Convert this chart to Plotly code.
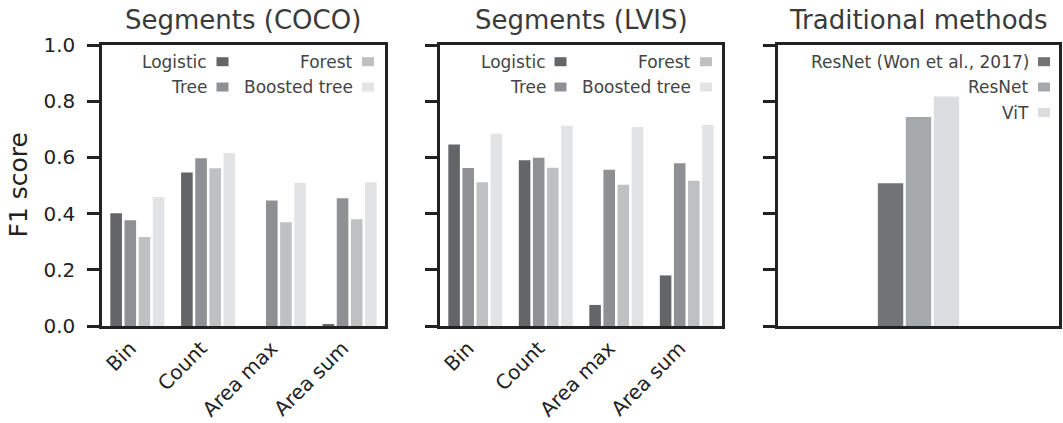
import plotly.graph_objects as go

# ---------------- data ----------------
features = ["Bin", "Count", "Area max", "Area sum"]
model_names = ["Logistic", "Tree", "Forest", "Boosted tree"]
model_colors = ["#646567", "#8f9093", "#bfc0c2", "#e2e3e5"]

coco_logistic = [0.401, 0.546, 0.0, 0.007]
coco_tree = [0.376, 0.597, 0.447, 0.455]
coco_forest = [0.317, 0.561, 0.369, 0.380]
coco_boosted = [0.459, 0.616, 0.510, 0.512]

lvis_logistic = [0.646, 0.590, 0.075, 0.180]
lvis_tree = [0.562, 0.599, 0.556, 0.579]
lvis_forest = [0.512, 0.563, 0.503, 0.517]
lvis_boosted = [0.684, 0.713, 0.708, 0.715]

trad_names = ["ResNet (Won et al., 2017)", "ResNet", "ViT"]
trad_colors = ["#727375", "#a6a9ac", "#dcdde0"]
trad_values = [0.508, 0.744, 0.817]
trad_category = ["F1"]

titles = ["Segments (COCO)", "Segments (LVIS)", "Traditional methods"]
y_ticks = [0.0, 0.2, 0.4, 0.6, 0.8, 1.0]

# ---------------- layout geometry ----------------
W, H = 1063, 423
panels_px = [(102, 385), (440, 722), (778, 1059)]
top_px, bottom_px = 45, 326
ydom = [1 - bottom_px / H, 1 - top_px / H]
FONT = "DejaVu Sans"
AXC = "#222222"

fig = go.Figure()

coco = [coco_logistic, coco_tree, coco_forest, coco_boosted]
lvis = [lvis_logistic, lvis_tree, lvis_forest, lvis_boosted]

unit1 = (panels_px[0][1] - panels_px[0][0]) / 4.0
bw1 = 11.6 / unit1
for k, (name, col) in enumerate(zip(model_names, model_colors)):
    fig.add_trace(go.Bar(x=features, y=coco[k], name=name, marker_color=col,
                         marker_line_width=0, width=bw1, xaxis="x", yaxis="y",
                         offsetgroup=str(k), showlegend=False))
    fig.add_trace(go.Bar(x=features, y=lvis[k], name=name, marker_color=col,
                         marker_line_width=0, width=bw1, xaxis="x2", yaxis="y2",
                         offsetgroup=str(k), showlegend=False))

r3 = 1.34
unit3 = (panels_px[2][1] - panels_px[2][0]) / (2 * r3)
bw3 = 25.4 / unit3
for k, (name, col) in enumerate(zip(trad_names, trad_colors)):
    fig.add_trace(go.Bar(x=trad_category, y=[trad_values[k]], name=name,
                         marker_color=col, marker_line_width=0, width=bw3,
                         xaxis="x3", yaxis="y3", offsetgroup=str(k),
                         showlegend=False))

axis_common = dict(showline=True, linewidth=2.5, linecolor=AXC, mirror=True,
                   showgrid=False, zeroline=False, automargin=False)

layout = dict(
    width=W, height=H, autosize=False,
    margin=dict(l=0, r=0, t=0, b=0, pad=0, autoexpand=False),
    paper_bgcolor="white", plot_bgcolor="white",
    barmode="group", bargap=0.2, bargroupgap=0,
    font=dict(family=FONT, color=AXC),
)
for i, (x0, x1) in enumerate(panels_px):
    sx = "" if i == 0 else str(i + 1)
    xa = dict(axis_common, domain=[x0 / W, x1 / W], anchor="y" + sx,
              type="category", ticks="", tickangle=-45, ticklabelstandoff=0,
              ticklabelshift=-7,
              tickfont=dict(family=FONT, size=20, color=AXC))
    if i < 2:
        xa["range"] = [-0.5, 3.5]
    else:
        xa["range"] = [-r3, r3]
        xa["showticklabels"] = False
    ya = dict(axis_common, domain=ydom, anchor="x" + sx, range=[0, 1],
              tickvals=y_ticks, tickformat=".1f", ticks="outside", ticklen=12,
              tickwidth=2.5, tickcolor=AXC, ticklabelstandoff=8,
              tickfont=dict(family=FONT, size=20, color=AXC),
              showticklabels=(i == 0))
    layout["xaxis" + sx] = xa
    layout["yaxis" + sx] = ya
fig.update_layout(**layout)

# subplot titles
for i, t in enumerate(titles):
    sx = "" if i == 0 else str(i + 1)
    fig.add_annotation(text=t, xref="x" + sx + " domain", yref="y" + sx + " domain",
                       x=0.5, y=1, xanchor="center", yanchor="bottom", yshift=8,
                       showarrow=False,
                       font=dict(family=FONT, size=26, color="#3a3a3a"))

# y label
fig.add_annotation(text="F1 score", xref="paper", yref="paper",
                   x=18 / W, y=(ydom[0] + ydom[1]) / 2, xanchor="center",
                   yanchor="middle", textangle=-90, showarrow=False,
                   font=dict(family=FONT, size=25, color=AXC))

# legends (text left of colour box, right aligned)
def add_legend(panel_idx, entries):
    sx = "" if panel_idx == 0 else str(panel_idx + 1)
    x0, x1 = panels_px[panel_idx]
    pw = x1 - x0
    ph = bottom_px - top_px
    for (name, col, colx, rowy) in entries:
        mx0 = colx
        mx1 = colx + 12
        fig.add_shape(type="rect", xref="x" + sx + " domain", yref="y" + sx + " domain",
                      x0=mx0 / pw, x1=mx1 / pw, y0=1 - (rowy + 4.5) / ph,
                      y1=1 - (rowy - 4.5) / ph, fillcolor=col, line_width=0)
        fig.add_annotation(text=name, xref="x" + sx + " domain", yref="y" + sx + " domain",
                           x=(mx0 - 7) / pw, y=1 - rowy / ph, xanchor="right",
                           yanchor="middle", showarrow=False,
                           font=dict(family=FONT, size=17, color="#444444"))

col_x = [114.5, 260]
row_y = [16.7, 42, 67.5]
seg_entries = [(model_names[k], model_colors[k], col_x[k // 2], row_y[k % 2])
               for k in range(4)]
add_legend(0, seg_entries)
add_legend(1, seg_entries)
add_legend(2, [(trad_names[k], trad_colors[k], col_x[1], row_y[k]) for k in range(3)])

fig.write_html(
    "out.html",
    config={"displayModeBar": False},
    post_script="document.documentElement.style.margin='0';"
                "document.body.style.margin='0';document.body.style.padding='0';"
                "document.body.style.overflow='hidden';",
)
